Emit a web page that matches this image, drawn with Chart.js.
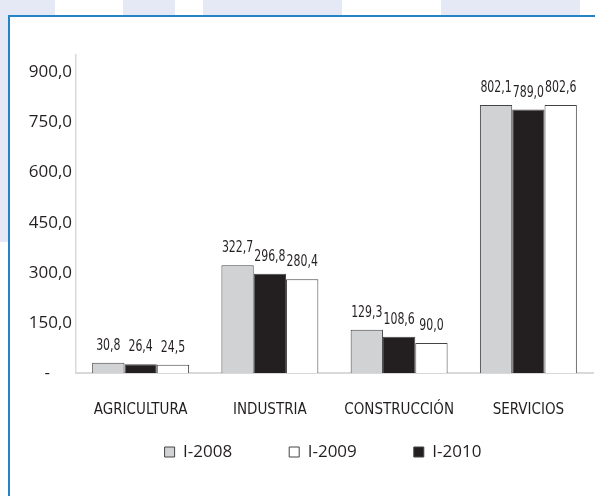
<!DOCTYPE html>
<html>
<head>
<meta charset="utf-8">
<script src="https://cdn.jsdelivr.net/npm/chart.js@4"></script>
<style>
    html, body { margin: 0; padding: 0; background: #fff; }
    #page { position: relative; width: 595px; height: 496px; overflow: hidden; }
    .band { position: absolute; background: #e4e9f5; }
    #frame {
        position: absolute; left: 8px; top: 15px; right: -10px; bottom: -10px;
        border-top: 2px solid #2584c8; border-left: 2px solid #2584c8;
    }
    #chart { position: absolute; left: 0; top: 0; }
</style>
</head>
<body>
<div id="page">
    <div class="band" style="left:0;top:0;width:55px;height:16px"></div>
    <div class="band" style="left:123px;top:0;width:52px;height:16px"></div>
    <div class="band" style="left:203px;top:0;width:139px;height:16px"></div>
    <div class="band" style="left:441px;top:0;width:139px;height:16px"></div>
    <div class="band" style="left:0;top:0;width:8px;height:242px"></div>
    <div id="frame"></div>
    <canvas id="chart" width="595" height="496"></canvas>
</div>
<script>
// Sector employment by quarter (values as printed on the bars)
const sectors = ['AGRICULTURA', 'INDUSTRIA', 'CONSTRUCCIÓN', 'SERVICIOS'];
const values2008 = [30.8, 322.7, 129.3, 802.1];
const values2010 = [26.4, 296.8, 108.6, 789.0];
const values2009 = [24.5, 280.4, 90.0, 802.6];
const yTicks = [0, 150, 300, 450, 600, 750, 900];

const TEXT = '#231f20';
const NARROW = '"DejaVu Sans Condensed", "Liberation Sans Narrow", "DejaVu Sans"';
// where the legend row should sit (centre of the items)
const LEGEND_CX = 323;
const LEGEND_CY = 452;

function fmt(v) {
    return v.toFixed(1).replace('.', ',');
}

// Value labels above every bar, squeezed to look like a condensed face
const barLabels = {
    id: 'barLabels',
    afterDatasetsDraw(chart) {
        const ctx = chart.ctx;
        chart.data.datasets.forEach((ds, di) => {
            chart.getDatasetMeta(di).data.forEach((bar, i) => {
                ctx.save();
                ctx.fillStyle = TEXT;
                ctx.font = '16px ' + NARROW;
                ctx.textAlign = 'center';
                ctx.textBaseline = 'middle';
                ctx.translate(bar.x, bar.y - 17);
                ctx.scale(0.76, 1);
                ctx.fillText(fmt(ds.data[i]), 0, 0);
                ctx.restore();
            });
        });
    }
};

// Put the legend row where the reference has it
const moveLegend = {
    id: 'moveLegend',
    afterLayout(chart) {
        const lg = chart.legend;
        const lab = lg.options.labels;
        const itemH = Math.max(lab.font.size, lab.boxHeight);
        const dx = LEGEND_CX - (lg.left + lg.right) / 2;
        const top = LEGEND_CY - lab.padding - itemH / 2;
        lg.left += dx;
        lg.right += dx;
        lg.top = top;
        lg.bottom = top + lab.padding + itemH + 10;
    }
};

new Chart(document.getElementById('chart').getContext('2d'), {
    type: 'bar',
    data: {
        labels: sectors,
        datasets: [
            { label: 'I-2008', data: values2008, backgroundColor: '#d1d2d4', borderColor: '#444', borderWidth: 1 },
            { label: 'I-2010', data: values2010, backgroundColor: '#231f20', borderColor: '#444', borderWidth: 1 },
            { label: 'I-2009', data: values2009, backgroundColor: '#ffffff', borderColor: '#444', borderWidth: 1 }
        ]
    },
    options: {
        responsive: false,
        animation: false,
        layout: { padding: { top: 55, right: 2, bottom: 43, left: 0 } },
        datasets: { bar: { categoryPercentage: 0.75, barPercentage: 1.0 } },
        plugins: {
            tooltip: { enabled: false },
            legend: {
                position: 'bottom',
                maxHeight: 30,
                labels: {
                    boxWidth: 10,
                    boxHeight: 10,
                    padding: 57,
                    color: TEXT,
                    font: { family: '"Open Sans"', size: 17 },
                    sort: (a, b) => a.text.localeCompare(b.text)
                }
            }
        },
        scales: {
            x: {
                afterFit(scale) { scale.height = 50; },
                grid: { display: false, drawTicks: false },
                border: { color: '#d9d9d9', width: 2 },
                ticks: {
                    color: TEXT,
                    padding: 28,
                    font: { family: NARROW, size: 15 }
                }
            },
            y: {
                min: 0,
                max: 952,
                afterFit(scale) { scale.width = 76; },
                afterBuildTicks(scale) { scale.ticks = yTicks.map(v => ({ value: v })); },
                grid: { display: false, drawTicks: false },
                border: { color: '#d9d9d9', width: 1.5 },
                ticks: {
                    color: TEXT,
                    padding: 4,
                    font: { family: '"Open Sans"', size: 17 },
                    callback: v => v === 0 ? '-     ' : fmt(v)
                }
            }
        }
    },
    plugins: [barLabels, moveLegend]
});
</script>
</body>
</html>
